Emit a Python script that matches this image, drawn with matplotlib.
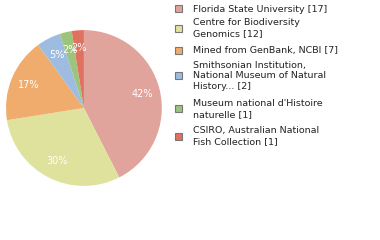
import matplotlib
matplotlib.use('Agg')
import matplotlib.pyplot as plt
from matplotlib.patches import Rectangle

labels = ["Florida State University [17]",
          "Centre for Biodiversity\nGenomics [12]",
          "Mined from GenBank, NCBI [7]",
          "Smithsonian Institution,\nNational Museum of Natural\nHistory... [2]",
          "Museum national d'Histoire\nnaturelle [1]",
          "CSIRO, Australian National\nFish Collection [1]"]
counts = [17, 12, 7, 2, 1, 1]
colors = ['#e0a49c', '#dee29c', '#f0ac6c', '#9dbce0', '#9dc47c', '#e07060']

fig = plt.figure(figsize=(3.8, 2.4), dpi=100)
ax = fig.add_axes([0.0158, 0.225, 0.41, 0.65])
wedges, texts, autotexts = ax.pie(counts, colors=colors, startangle=90, counterclock=False,
                                  autopct=lambda p: '%d%%' % int(p), pctdistance=0.77,
                                  textprops={'color': 'white', 'fontsize': 7})
ax.set_xlim(-1, 1)
ax.set_ylim(-1, 1)
ax.set_aspect('equal')

# legend drawn by hand
centers = [9, 28, 50, 76, 109, 136]
for lab, col, yc in zip(labels, colors, centers):
    y = 1 - yc / 240
    fig.patches.append(Rectangle((175 / 380, y - 3.5 / 240), 7 / 380, 7 / 240,
                                 transform=fig.transFigure, facecolor=col,
                                 edgecolor='#777777', linewidth=0.8))
    fig.text(193 / 380, y, lab, fontsize=6.8, va='center', ha='left',
             color='#222222', linespacing=1.25)

fig.savefig('out.png', dpi=100)
